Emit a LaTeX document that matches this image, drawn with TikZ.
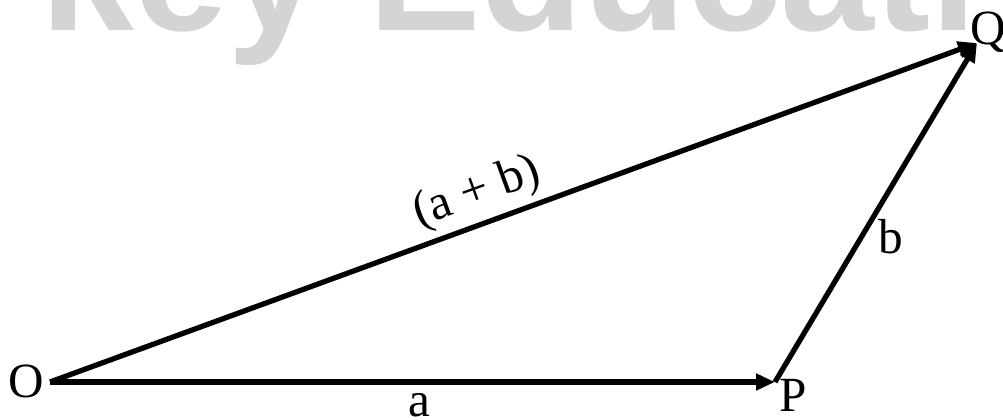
\documentclass[tikz,border=0pt]{standalone}
\usepackage{fontspec}
\setmainfont{Liberation Serif}
\newfontfamily\wmfont{Liberation Sans}
\usetikzlibrary{arrows.meta,positioning}

\begin{document}
\begin{tikzpicture}[x=0.02cm,y=-0.02cm,every node/.style={font=\fontsize{28}{30}\selectfont,inner sep=0pt},
  vec/.style={line width=3pt,-{Triangle[length=0.38cm,width=0.32cm]}}]
\useasboundingbox (0,0) rectangle (1003,419);
\clip (0,0) rectangle (1003,419);
% watermark
\node[anchor=base west,font=\wmfont\bfseries\fontsize{96}{100}\selectfont,text=black!17] (wm) at (40,31) {key Educati};
\coordinate (o) at (50,382);
\coordinate (p) at (775,382);
\coordinate (q) at (977,43);
\draw[vec] (o) -- (p);
\draw[vec] (p) -- (q);
\draw[vec] (o) -- (q);
\node (lo) at (26,381) {O};
\node (lp) at (793,395) {P};
\node (lq) at (988,32) {Q};
\node (la) at (419,405) {a};
\node (lb) at (891,237) {b};
\node[rotate=20] (lab) at (477,193) {(a + b)};
\end{tikzpicture}
\end{document}
